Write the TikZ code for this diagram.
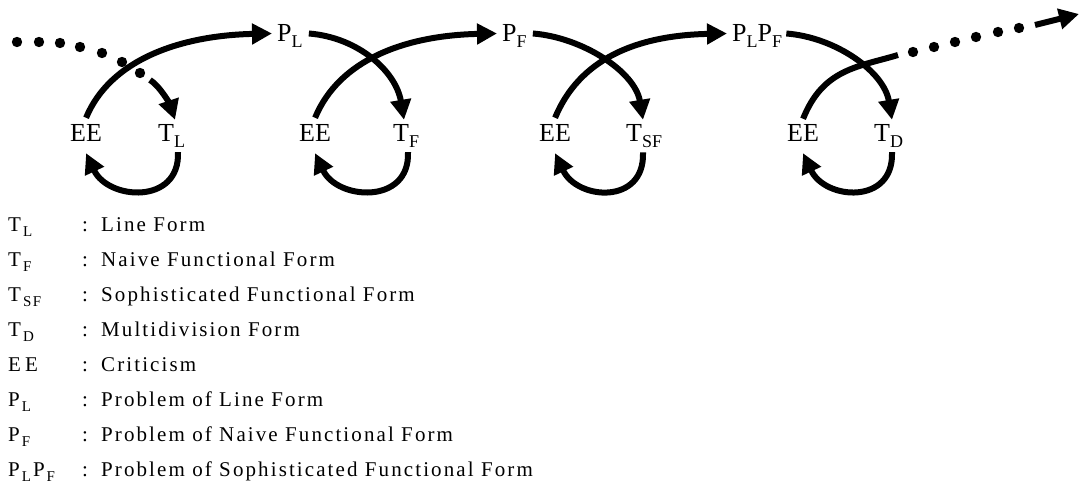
\documentclass[tikz,border=0pt]{standalone}
\usepackage{fontspec}
\setmainfont{Liberation Serif}
\newfontfamily\legfont[LetterSpace=10]{Liberation Serif}
\usetikzlibrary{arrows.meta}
\tikzset{
  lab/.style={inner sep=0pt, anchor=base west, font=\fontsize{26}{30}\selectfont},
  leg/.style={inner sep=0pt, anchor=base west, font=\legfont\fontsize{21}{25}\selectfont},
  flow/.style={line width=6pt, -{Triangle[length=20pt,width=20pt]}},
  plainline/.style={line width=6pt},
}
\newcommand\dsub[1]{\raisebox{-6pt}{\fontsize{18}{18}\selectfont #1}}
\newcommand\lsub[1]{\hspace{2pt}\raisebox{-5pt}{\fontsize{15}{15}\selectfont #1}}
\begin{document}
\begin{tikzpicture}[x=1pt,y=-1pt]
\useasboundingbox (0,0) rectangle (1080,486);

% ---------- diagram labels ----------
\node[lab] (EEa) at (70,142) {EE};
\node[lab] (TL) at (158,142) {T\dsub{L}};
\node[lab] (PL) at (277,42) {P\dsub{L}};
\node[lab] (EEb) at (299,142) {EE};
\node[lab] (TF) at (393,142) {T\dsub{F}};
\node[lab] (PF) at (502,42) {P\dsub{F}};
\node[lab] (EEc) at (539,142) {EE};
\node[lab] (TSF) at (626,142) {T\dsub{SF}};
\node[lab] (PLPF) at (732,42) {P\dsub{L}P\dsub{F}};
\node[lab] (EEd) at (787,142) {EE};
\node[lab] (TD) at (874,142) {T\dsub{D}};

% ---------- incoming dotted arrow ----------
\foreach \p in {(17,42),(39,42),(60,43),(80,47),(102,53),(122,62),(140,73)}
  \fill \p circle (5.2);
\coordinate (d1) at (150,80);
\draw[flow] (d1) .. controls +(10,6) and +(-5,-15) .. ([xshift=17pt,yshift=5pt]TL.north west);

% ---------- group 1 ----------
\draw[flow] ([yshift=7pt]EEa.north) .. controls +(24,-58) and +(-92,2) .. ([xshift=-5pt,yshift=3pt]PL.west);
\draw[flow] ([xshift=20pt,yshift=-4pt]TL.south west) .. controls +(2,53) and +(22,47) .. ([yshift=-11pt]EEa.south);

% ---------- group 2 ----------
\draw[flow] ([xshift=6pt,yshift=3pt]PL.east) .. controls +(50,4) and +(-8,-48) .. ([xshift=11pt,yshift=5pt]TF.north west);
\draw[flow] ([yshift=7pt]EEb.north) .. controls +(24,-58) and +(-92,2) .. ([xshift=-5pt,yshift=3pt]PF.west);
\draw[flow] ([xshift=15pt,yshift=-4pt]TF.south west) .. controls +(2,53) and +(22,47) .. ([yshift=-11pt]EEb.south);

% ---------- group 3 ----------
\draw[flow] ([xshift=6pt,yshift=3pt]PF.east) .. controls +(50,4) and +(-8,-48) .. ([xshift=17pt,yshift=5pt]TSF.north west);
\draw[flow] ([yshift=7pt]EEc.north) .. controls +(24,-58) and +(-92,2) .. ([xshift=-5pt,yshift=3pt]PLPF.west);
\draw[flow] ([xshift=17pt,yshift=-4pt]TSF.south west) .. controls +(2,53) and +(22,47) .. ([yshift=-11pt]EEc.south);

% ---------- group 4 ----------
\draw[flow] ([xshift=4pt,yshift=3pt]PLPF.east) .. controls +(50,4) and +(-8,-48) .. ([xshift=18pt,yshift=5pt]TD.north west);
\coordinate (s1) at (898,55);
\draw[plainline] ([yshift=6pt]EEd.north) .. controls +(20,-50) and +(-40,12) .. (s1);
\draw[flow] ([xshift=18pt,yshift=-4pt]TD.south west) .. controls +(2,53) and +(22,47) .. ([yshift=-11pt]EEd.south);
\foreach \p in {(913,52),(934,47),(955,42),(976,37),(998,32),(1019,28)}
  \fill \p circle (5.2);
\coordinate (e1) at (1035,25);
\coordinate (e2) at (1079,14);
\draw[flow] (e1) -- (e2);

% ---------- legend ----------
\node[leg] (k1) at (8,232) {T\lsub{L}};
\node[leg] (c1) at (82,232) {:};
\node[leg] (v1) at (101,232) {Line Form};
\node[leg] (k2) at (8,267) {T\lsub{F}};
\node[leg] (c2) at (82,267) {:};
\node[leg] (v2) at (101,267) {Naive Functional Form};
\node[leg] (k3) at (8,302) {T\lsub{SF}};
\node[leg] (c3) at (82,302) {:};
\node[leg] (v3) at (101,302) {Sophisticated Functional Form};
\node[leg] (k4) at (8,337) {T\lsub{D}};
\node[leg] (c4) at (82,337) {:};
\node[leg] (v4) at (101,337) {Multidivision Form};
\node[leg] (k5) at (8,372) {E\hspace{4pt}E};
\node[leg] (c5) at (82,372) {:};
\node[leg] (v5) at (101,372) {Criticism};
\node[leg] (k6) at (8,407) {P\lsub{L}};
\node[leg] (c6) at (82,407) {:};
\node[leg] (v6) at (101,407) {Problem of Line Form};
\node[leg] (k7) at (8,442) {P\lsub{F}};
\node[leg] (c7) at (82,442) {:};
\node[leg] (v7) at (101,442) {Problem of Naive Functional Form};
\node[leg] (k8) at (8,477) {P\lsub{L}\hspace{2pt}P\lsub{F}};
\node[leg] (c8) at (82,477) {:};
\node[leg] (v8) at (101,477) {Problem of Sophisticated Functional Form};
\end{tikzpicture}
\end{document}
